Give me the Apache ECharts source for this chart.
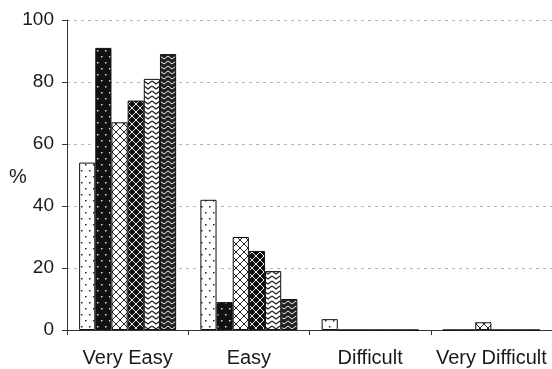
<!DOCTYPE html>
<html>
<head>
<meta charset="utf-8">
<script src="https://cdn.jsdelivr.net/npm/echarts@6/dist/echarts.min.js"></script>
<style>
  html, body { margin: 0; padding: 0; background: #fff; }
  #chart { width: 552px; height: 369px; }
</style>
</head>
<body>
<div id="chart"></div>
<script>
// categories and values
const categories = ['Very Easy', 'Easy', 'Difficult', 'Very Difficult']
const dotsWhite = [54, 42, 3.5, 0]
const dotsBlack = [91, 9, 0, 0]
const crossWhite = [67, 30, 0, 2.5]
const crossBlack = [74, 25.5, 0, 0]
const zigWhite = [81, 19, 0, 0]
const zigBlack = [89, 10, 0, 0]
const yTicks = [0, 20, 40, 60, 80, 100]

// small canvas tiles used as fill patterns
function tile(w, h, draw) {
  const c = document.createElement('canvas')
  c.width = w
  c.height = h
  const ctx = c.getContext('2d')
  draw(ctx, w, h)
  return { image: c, repeat: 'repeat' }
}

function dots(bg, fg) {
  return tile(8, 12, (ctx, w, h) => {
    ctx.fillStyle = bg
    ctx.fillRect(0, 0, w, h)
    ctx.fillStyle = fg
    ctx.fillRect(1, 2, 1.5, 1.5)
    ctx.fillRect(5, 8, 1.5, 1.5)
  })
}

function cross(bg, fg) {
  return tile(8, 8, (ctx, w, h) => {
    ctx.fillStyle = bg
    ctx.fillRect(0, 0, w, h)
    ctx.strokeStyle = fg
    ctx.lineWidth = 1
    ctx.beginPath()
    ctx.moveTo(0, 0); ctx.lineTo(w, h)
    ctx.moveTo(w, 0); ctx.lineTo(0, h)
    ctx.stroke()
  })
}

function zig(bg, fg, lw) {
  return tile(8, 5, (ctx, w, h) => {
    ctx.fillStyle = bg
    ctx.fillRect(0, 0, w, h)
    ctx.strokeStyle = fg
    ctx.lineWidth = lw
    ctx.beginPath()
    ctx.moveTo(0, 1); ctx.lineTo(4, 4); ctx.lineTo(8, 1)
    ctx.stroke()
  })
}

const seriesDefs = [
  { name: 'A', data: dotsWhite, color: dots('#fff', '#222') },
  { name: 'B', data: dotsBlack, color: dots('#111', '#ddd') },
  { name: 'C', data: crossWhite, color: cross('#fff', '#222') },
  { name: 'D', data: crossBlack, color: cross('#111', '#eee') },
  { name: 'E', data: zigWhite, color: zig('#fff', '#222', 1.3) },
  { name: 'F', data: zigBlack, color: zig('#222', '#eee', 1) }
]

const chart = echarts.init(document.getElementById('chart'))
const font = 'Liberation Sans, Arial, sans-serif'

chart.setOption({
  animation: false,
  backgroundColor: '#fff',
  grid: { left: 67, right: 0, top: 20, bottom: 39 },
  xAxis: {
    type: 'category',
    data: categories,
    axisLine: { lineStyle: { color: '#333', width: 1 } },
    axisTick: { show: true, length: 5, lineStyle: { color: '#333' } },
    axisLabel: { color: '#1a1a1a', fontSize: 20, fontFamily: font, margin: 18, interval: 0 }
  },
  yAxis: {
    type: 'value',
    min: 0,
    max: 100,
    interval: 20,
    axisLine: { show: true, lineStyle: { color: '#333', width: 1 } },
    axisTick: { show: true, length: 5, lineStyle: { color: '#333' } },
    axisLabel: {
      color: '#1a1a1a', fontSize: 19, fontFamily: font, margin: 13,
      formatter: v => (yTicks.includes(v) ? String(v) : '')
    },
    splitLine: { show: true, lineStyle: { color: '#b5b5b5', type: [3, 4], width: 1 } }
  },
  graphic: [{
    type: 'text',
    left: 9,
    top: 167,
    style: { text: '%', fill: '#1a1a1a', font: '20px ' + font }
  }],
  series: seriesDefs.map(s => ({
    name: s.name,
    type: 'bar',
    data: s.data,
    barGap: '0%',
    barCategoryGap: '20%',
    itemStyle: { color: s.color, borderColor: '#111', borderWidth: 1 }
  }))
})
</script>
</body>
</html>
